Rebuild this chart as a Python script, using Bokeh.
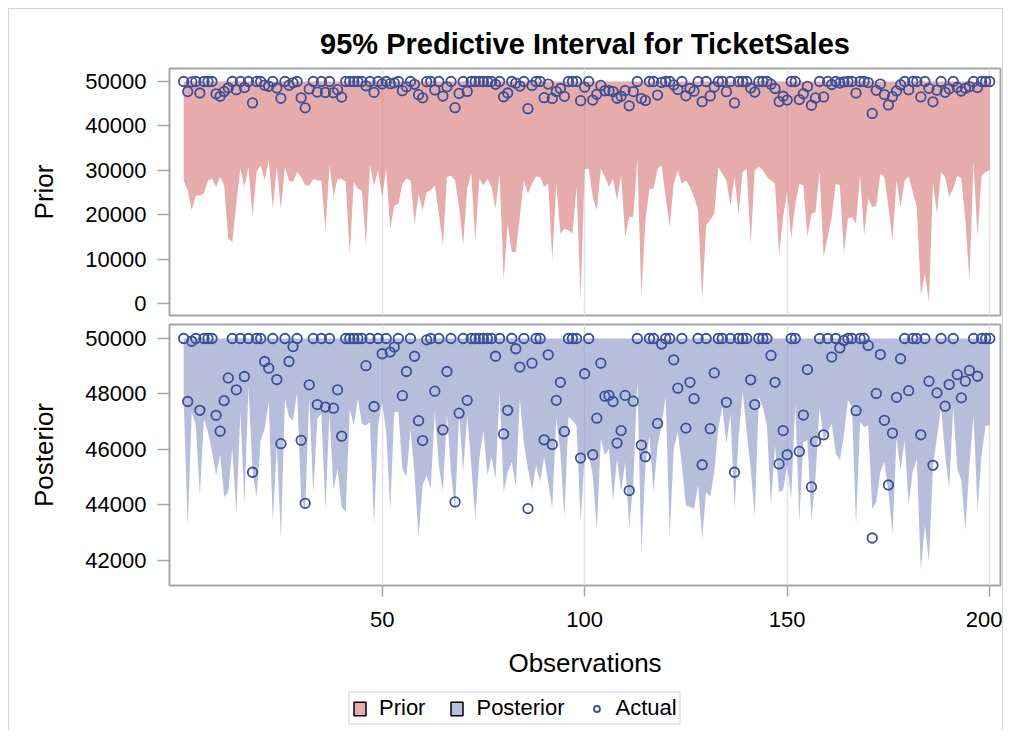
import numpy as np
from bokeh.plotting import figure
from bokeh.layouts import column
from bokeh.models import (Range1d, FixedTicker, Legend, LegendItem, ColumnDataSource,
                          Grid, NumeralTickFormatter)
from bokeh.embed import file_html
from bokeh.resources import INLINE

# ---------------- data ----------------
obs = list(range(1, 201))

actual = [
    50000, 47730, 49900, 50000, 47410, 50000, 50000, 50000, 47230, 46660,
    47760, 48580, 50000, 48150, 50000, 48630, 50000, 45180, 50000, 50000,
    49170, 48930, 50000, 48520, 46210, 50000, 49170, 49710, 50000, 46330,
    44060, 48330, 50000, 47620, 50000, 47530, 50000, 47490, 48150, 46480,
    50000, 50000, 50000, 50000, 50000, 49020, 50000, 47550, 50000, 49450,
    50000, 49510, 49690, 50000, 47940, 48810, 50000, 49360, 47040, 46320,
    49950, 50000, 48100, 50000, 46710, 48810, 50000, 44110, 47310, 50000,
    47770, 50000, 50000, 50000, 50000, 50000, 50000, 49360, 50000, 46560,
    47410, 50000, 49630, 48970, 50000, 43870, 49110, 50000, 50000, 46350,
    49410, 46180, 47770, 48420, 46650, 50000, 50000, 50000, 45690, 48730,
    50000, 45810, 47130, 49110, 47920, 47950, 47730, 46230, 46680, 47950,
    44520, 47740, 50000, 46160, 45740, 50000, 50000, 46940, 49800, 50000,
    50000, 49230, 48210, 50000, 46770, 48420, 47830, 50000, 45450, 50000,
    46750, 48760, 50000, 50000, 47700, 50000, 45180, 50000, 50000, 50000,
    48510, 47620, 50000, 50000, 50000, 49390, 48420, 45480, 46680, 45810,
    50000, 50000, 45930, 47240, 48880, 44650, 46290, 50000, 46530, 50000,
    49330, 50000, 49660, 49930, 50000, 50000, 47400, 50000, 50000, 49750,
    42810, 48020, 49420, 47050, 44720, 46590, 47880, 49270, 50000, 48120,
    50000, 50000, 46530, 50000, 48460, 45430, 48040, 50000, 47560, 48340,
    50000, 48700, 47860, 48460, 48850, 50000, 48640, 50000, 50000, 50000,
]

prior_lower = [
    27725, 25475, 20975, 24350, 24350, 24725, 27725, 28100, 26225, 28475,
    26600, 14600, 13850, 22475, 30350, 26225, 30725, 19475, 29600, 31100,
    27725, 32225, 21350, 30725, 21350, 30725, 27725, 27350, 29600, 28475,
    26600, 26600, 28100, 27725, 27725, 16475, 31100, 23975, 28100, 28100,
    27350, 10850, 27350, 25850, 25475, 13100, 31100, 26600, 29975, 23975,
    30350, 16850, 22100, 22475, 26975, 28100, 27725, 17975, 24725, 20975,
    25100, 25475, 26600, 20225, 13100, 28475, 28850, 27725, 21725, 13100,
    25850, 29225, 13850, 28100, 26600, 28100, 26225, 21350, 29225, 5225,
    17975, 11600, 11600, 19475, 27725, 24725, 26975, 28625, 28475, 26225,
    26975, 9725, 26975, 15725, 16850, 16475, 15725, 26225, 725, 30350,
    30350, 23975, 20975, 30350, 28475, 26225, 28100, 23225, 28850, 14975,
    19475, 19475, 32600, 1475, 18725, 25850, 25850, 30350, 31100, 23975,
    17225, 26975, 29975, 26975, 27725, 26225, 23975, 20975, 725, 17600,
    18725, 20225, 30725, 29225, 27725, 22100, 28475, 20225, 29600, 30350,
    13475, 29975, 30875, 29975, 28475, 27725, 26975, 10850, 19475, 25100,
    14600, 22475, 26975, 26600, 14975, 20225, 20600, 29600, 10475, 14975,
    19475, 26975, 26600, 11225, 19100, 19475, 17975, 28850, 15350, 23600,
    21725, 22100, 29225, 28475, 21725, 14225, 27725, 21725, 27725, 28625,
    25100, 21725, 1850, 6725, 350, 26975, 20225, 29600, 28475, 24125,
    25850, 28850, 28100, 18725, 5225, 31850, 14975, 28850, 29600, 29975,
]

posterior_lower = [
    47768, 43208, 47348, 46868, 44348, 47108, 46628, 45908, 45068, 45788,
    44288, 44468, 46028, 43688, 47348, 44048, 48248, 45188, 44288, 46328,
    46748, 47708, 43388, 46148, 42788, 47828, 47168, 47048, 48068, 44228,
    43868, 47888, 44408, 47108, 47288, 43808, 47288, 44528, 45308, 43928,
    43748, 47468, 46868, 47828, 46928, 46868, 46988, 43268, 46868, 47708,
    46628, 43808, 47348, 47348, 45308, 45008, 46748, 45068, 42848, 44708,
    45068, 44588, 47348, 45428, 44468, 47288, 45188, 43748, 47288, 45188,
    47228, 45428, 43508, 45668, 46688, 45068, 45728, 44948, 48068, 44468,
    45188, 45548, 44648, 47828, 46208, 45308, 44528, 45428, 44828, 45728,
    44828, 43868, 47108, 45908, 43568, 47168, 47048, 46868, 43388, 45788,
    45788, 45068, 43088, 46388, 45788, 46028, 44168, 45668, 44468, 45548,
    43208, 44708, 48488, 42248, 45428, 46508, 44468, 46148, 46868, 47888,
    42848, 46028, 46628, 45428, 43988, 43928, 43868, 44708, 42788, 44468,
    44288, 45188, 46748, 47528, 46208, 47288, 43868, 46388, 48068, 46628,
    45308, 43568, 47888, 47528, 46868, 43988, 46148, 44468, 44528, 45428,
    44228, 47648, 43388, 46268, 46328, 43448, 45008, 47528, 46328, 46628,
    46928, 45848, 45608, 46508, 47768, 47528, 43268, 46988, 46808, 46868,
    43868, 44108, 45188, 45548, 44468, 42968, 46388, 45248, 46328, 44048,
    45188, 45668, 41648, 43268, 41948, 45368, 46448, 47528, 45788, 44588,
    47528, 45308, 44888, 43088, 45428, 47228, 43808, 45788, 46868, 46868,
]

upper_bound = 50000          # both intervals are capped at 50000

x_ticks = [50, 100, 150, 200]
prior_ticks = [0, 10000, 20000, 30000, 40000, 50000]
posterior_ticks = [42000, 44000, 46000, 48000, 50000]

title_text = "95% Predictive Interval for TicketSales"
legend_labels = ["Prior", "Posterior", "Actual"]

# ---------------- style ----------------
FONT = "Liberation Sans"
PRIOR_FILL = "#D57474"
POST_FILL = "#8592C4"
BAND_ALPHA = 0.6
PRIOR_LEG = "#E7ACAC"
POST_LEG = "#B7BFDC"
DOT = "#3D4F96"
FRAME = "#A2A6AA"
GRID = "#E2E2E2"

src = ColumnDataSource(dict(
    obs=obs,
    actual=actual,
    prior_lower=prior_lower,
    posterior_lower=posterior_lower,
    upper=np.full(len(obs), upper_bound),
))

W = 993
XR = (-2.5, 202.67)


def style_common(p):
    p.outline_line_color = FRAME
    p.outline_line_width = 2
    p.background_fill_color = "white"
    p.border_fill_color = "white"
    p.grid.visible = False
    g = Grid(dimension=0, ticker=FixedTicker(ticks=x_ticks),
             grid_line_color=GRID, grid_line_width=1.5)
    p.add_layout(g, "center")


def style_y(ax, ticks, label):
    ax.ticker = FixedTicker(ticks=ticks)
    ax.formatter = NumeralTickFormatter(format="0")
    ax.axis_label = label
    ax.axis_label_text_font = FONT
    ax.axis_label_text_font_size = "26px"
    ax.axis_label_text_font_style = "normal"
    ax.axis_label_text_color = "black"
    ax.axis_label_standoff = 23
    ax.major_label_text_font = FONT
    ax.major_label_text_font_size = "22px"
    ax.major_label_text_color = "black"
    ax.major_label_standoff = 11
    ax.major_tick_out = 12
    ax.major_tick_in = 0
    ax.major_tick_line_color = FRAME
    ax.major_tick_line_width = 1.5
    ax.minor_tick_line_color = None
    ax.axis_line_color = None


# ---------------- Prior panel ----------------
p1 = figure(width=W, height=310, output_backend="svg", toolbar_location=None,
            x_range=Range1d(*XR), y_range=Range1d(-2703, 52928),
            x_axis_location=None, title=title_text,
            min_border_left=160, min_border_right=2,
            min_border_top=59, min_border_bottom=4)
p1.title.align = "center"
p1.title.text_font = FONT
p1.title.text_font_size = "29px"
p1.title.text_font_style = "bold"
p1.title.text_color = "black"
p1.title.standoff = 17
style_common(p1)
style_y(p1.yaxis[0], prior_ticks, "Prior")

p1.varea(x="obs", y1="prior_lower", y2="upper", source=src,
         fill_color=PRIOR_FILL, fill_alpha=BAND_ALPHA)
p1.scatter(x="obs", y="actual", source=src, marker="circle", size=9.5,
           fill_color=None, line_color=DOT, line_width=1.8)

# ---------------- Posterior panel ----------------
p2 = figure(width=W, height=371, output_backend="svg", toolbar_location=None,
            x_range=p1.x_range, y_range=Range1d(41099, 50504),
            min_border_left=160, min_border_right=2,
            min_border_top=5, min_border_bottom=105)
style_common(p2)
style_y(p2.yaxis[0], posterior_ticks, "Posterior")

xa = p2.xaxis[0]
xa.ticker = FixedTicker(ticks=x_ticks)
xa.axis_label = "Observations"
xa.axis_label_text_font = FONT
xa.axis_label_text_font_size = "26px"
xa.axis_label_text_font_style = "normal"
xa.axis_label_text_color = "black"
xa.axis_label_standoff = 18
xa.major_label_text_font = FONT
xa.major_label_text_font_size = "22px"
xa.major_label_text_color = "black"
xa.major_label_standoff = 15
xa.major_tick_out = 11
xa.major_tick_in = 0
xa.major_tick_line_color = FRAME
xa.major_tick_line_width = 1.5
xa.minor_tick_line_color = None
xa.axis_line_color = None

p2.varea(x="obs", y1="posterior_lower", y2="upper", source=src,
         fill_color=POST_FILL, fill_alpha=BAND_ALPHA)
p2.scatter(x="obs", y="actual", source=src, marker="circle", size=9.5,
           fill_color=None, line_color=DOT, line_width=1.8)

# ---------------- legend strip ----------------
# swatch glyphs sit outside the strip's ranges: only their legend entries show
p3 = figure(width=W, height=40, output_backend="svg", toolbar_location=None,
            x_range=Range1d(0, 1), y_range=Range1d(0, 1),
            x_axis_location=None, y_axis_location=None,
            min_border_left=0, min_border_right=0,
            min_border_top=0, min_border_bottom=0)
p3.outline_line_color = None
p3.grid.visible = False
p3.background_fill_color = "white"
p3.border_fill_color = "white"

q_prior = p3.quad(left=[5], right=[6], top=[6], bottom=[5],
                  fill_color=PRIOR_LEG, line_color="black", line_width=1.5)
q_post = p3.quad(left=[5], right=[6], top=[6], bottom=[5],
                 fill_color=POST_LEG, line_color="black", line_width=1.5)
s_act = p3.scatter(x=[5], y=[5], marker="circle", size=9.5,
                   fill_color=None, line_color=DOT, line_width=1.8)

legend = Legend(items=[
    LegendItem(label=legend_labels[0], renderers=[q_prior]),
    LegendItem(label=legend_labels[1], renderers=[q_post]),
    LegendItem(label=legend_labels[2], renderers=[s_act]),
], orientation="horizontal", location=(179, 5))
legend.label_text_font = FONT
legend.label_text_font_size = "22px"
legend.label_text_color = "black"
legend.glyph_width = 15
legend.glyph_height = 17
legend.label_standoff = 12
legend.spacing = 24
legend.padding = 2
legend.margin = 0
legend.border_line_color = "#CFCFCF"
legend.border_line_width = 2
legend.background_fill_color = "white"
legend.background_fill_alpha = 1
p3.add_layout(legend, "center")

layout = column(p1, p2, p3, spacing=0,
                styles={"margin-left": "8px", "margin-top": "8px",
                        "border-top": "1px solid #D6D6D6",
                        "border-left": "1px solid #D6D6D6",
                        "border-right": "1px solid #D6D6D6"})

open("out.html", "w").write(file_html(layout, INLINE))
